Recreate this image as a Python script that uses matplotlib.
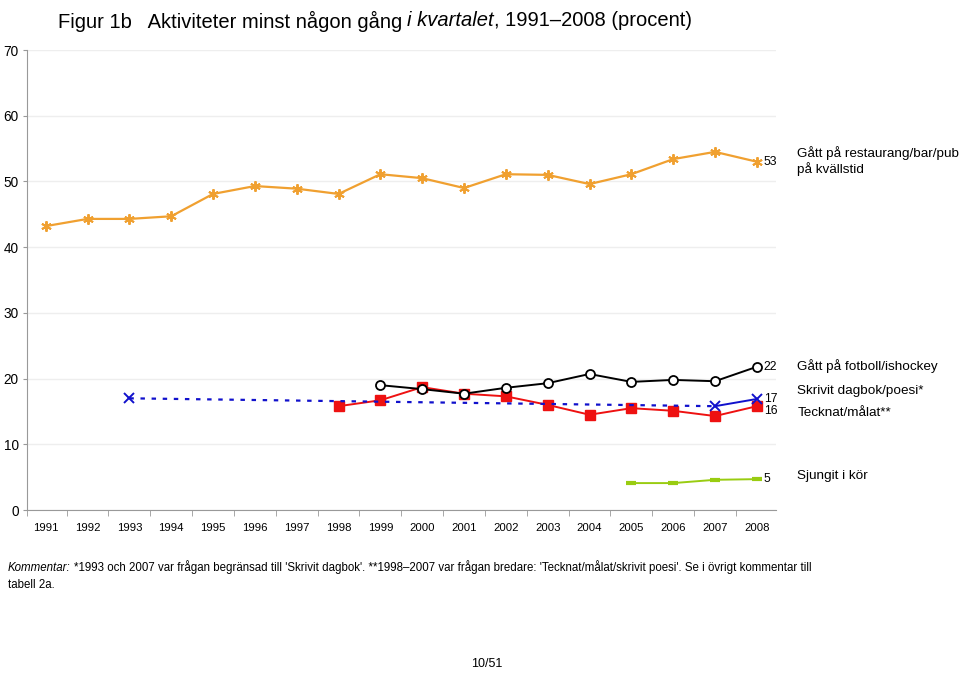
import matplotlib
matplotlib.use('Agg')
import matplotlib.pyplot as plt

plt.rcParams['font.family'] = ['Liberation Sans', 'DejaVu Sans']

years = list(range(1991, 2009))

# Gått på restaurang/bar/pub på kvällstid
restaurang = [43.2, 44.3, 44.3, 44.7, 48.1, 49.3, 48.9, 48.1, 51.1, 50.5,
              49.0, 51.1, 51.0, 49.6, 51.1, 53.4, 54.5, 53.0]

# Gått på fotboll/ishockey (1999-2008)
fotboll_years = list(range(1999, 2009))
fotboll = [19.0, 18.4, 17.7, 18.6, 19.3, 20.7, 19.5, 19.8, 19.6, 21.8]

# Tecknat/målat** (1998-2008)
tecknat_years = list(range(1998, 2009))
tecknat = [15.8, 16.7, 18.7, 17.7, 17.3, 16.0, 14.5, 15.5, 15.1, 14.3, 15.8]

# Skrivit dagbok/poesi*
dagbok_years = [1993, 2007, 2008]
dagbok = [17.0, 15.8, 16.9]

# Sjungit i kör (2005-2008)
kor_years = [2005, 2006, 2007, 2008]
kor = [4.1, 4.1, 4.6, 4.7]

end_labels = ['53', '22', '17', '16', '5']
series_names = ['Gått på restaurang/bar/pub\npå kvällstid', 'Gått på fotboll/ishockey',
                'Skrivit dagbok/poesi*', 'Tecknat/målat**', 'Sjungit i kör']

orange = '#F0A030'
red = '#EE1111'
blue = '#1111CC'
green = '#99CC11'

fig = plt.figure(figsize=(9.6, 6.75), dpi=100)
ax = fig.add_axes([0.028, 0.2444, 0.78, 0.6815])

ax.plot(years, restaurang, color=orange, lw=1.6, marker=(6, 2, 0), ms=7.5, mew=1.4,
        mec=orange, zorder=3)
ax.plot(tecknat_years, tecknat, color=red, lw=1.4, marker='s', ms=6.5, mfc=red,
        mec=red, zorder=3)
ax.plot(fotboll_years, fotboll, color='black', lw=1.4, marker='o', ms=6.5, mfc='white',
        mec='black', mew=1.3, zorder=4)
ax.plot(dagbok_years[:2], dagbok[:2], color=blue, lw=1.6, ls=(0, (2, 3)), zorder=3)
ax.plot(dagbok_years[1:], dagbok[1:], color=blue, lw=1.4, zorder=3)
ax.plot(dagbok_years, dagbok, ls='none', marker='x', ms=7, mew=1.4, color=blue, zorder=5)
ax.plot(kor_years, kor, color=green, lw=1.4, marker='_', ms=7, mew=3, zorder=3)

ax.set_xlim(1990.55, 2008.45)
ax.set_ylim(0, 70)
ax.set_yticks(range(0, 71, 10))
ax.set_xticks(years)
ax.set_xticks([y + 0.5 for y in years[:-1]] + [1990.55], minor=True)
ax.tick_params(axis='x', which='major', length=0, labelsize=8.2, pad=9)
ax.tick_params(axis='x', which='minor', length=4, color='#999999', direction='out')
ax.tick_params(axis='y', length=3, color='#999999', labelsize=9.8, pad=3)
ax.yaxis.grid(True, color='#EEEEEE', lw=1)
ax.set_axisbelow(True)
for s in ['top', 'right']:
    ax.spines[s].set_visible(False)
for s in ['left', 'bottom']:
    ax.spines[s].set_color('#999999')

# end value labels
ends = [restaurang[-1], fotboll[-1], dagbok[-1], tecknat[-1], kor[-1]]
offs = [0, 0, 0.0, -0.7, 0]
for v, o, t in zip(ends, offs, end_labels):
    ax.annotate(t, (2008, v + o), xytext=(5, 0), textcoords='offset points',
                va='center', ha='left', fontsize=8.8)

# series names on the right
name_y = [53.1, 21.9, 18.1, 14.8, 5.2]
for y, n in zip(name_y, series_names):
    ax.text(1.029, y, n, transform=ax.get_yaxis_transform(), va='center', ha='left',
            fontsize=9.7, linespacing=1.25)

fig.text(0.06, 0.984, 'Figur 1b   Aktiviteter minst någon gång ', fontsize=14.5,
         va='top', ha='left')
fig.canvas.draw()
t1 = fig.texts[-1]
bb = t1.get_window_extent()
t2 = fig.text(bb.x1 / 960, 0.984, 'i kvartalet', fontsize=14.5, style='italic', va='top',
              ha='left')
bb2 = t2.get_window_extent()
fig.text(bb2.x1 / 960, 0.984, ', 1991\u20132008 (procent)', fontsize=14.5, va='top',
         ha='left')

fig.text(0.008, 0.154, 'Kommentar:', fontsize=8.3, style='italic', va='baseline', ha='left')
fig.canvas.draw()
bb3 = fig.texts[-1].get_window_extent()
fig.text(bb3.x1 / 960 + 0.004, 0.154,
         "*1993 och 2007 var frågan begränsad till 'Skrivit dagbok'. **1998\u20132007 var frågan "
         "bredare: 'Tecknat/målat/skrivit poesi'. Se i övrigt kommentar till",
         fontsize=8.3, va='baseline', ha='left')
fig.text(0.008, 0.129, 'tabell 2a.', fontsize=8.3, va='baseline', ha='left')

fig.text(0.507, 0.007, '10/51', fontsize=9, ha='center', va='bottom')

fig.savefig('out.png', dpi=100)
